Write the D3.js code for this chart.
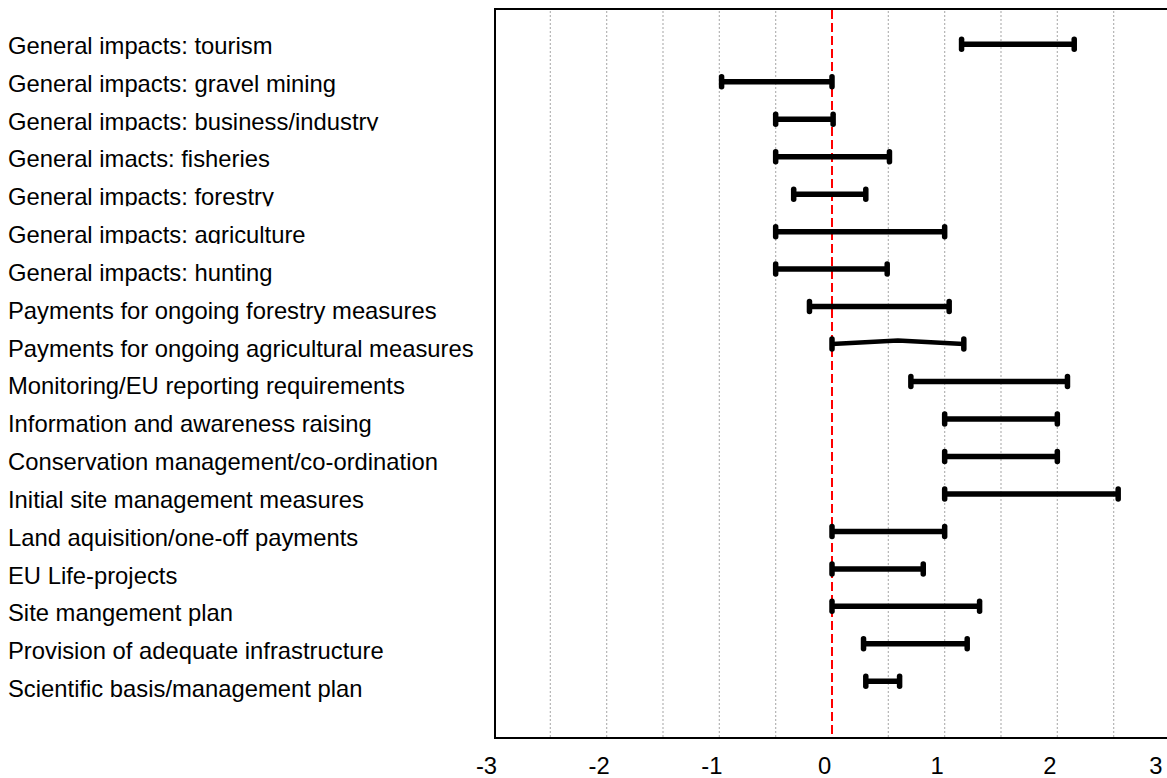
<!DOCTYPE html>
<html>
<head>
<meta charset="utf-8">
<script src="https://cdn.jsdelivr.net/npm/d3@7"></script>
<style>
  body { margin: 0; background: #fff; }
  svg { display: block; font-family: "Liberation Sans", Arial, sans-serif; }
</style>
</head>
<body>
<div id="chart"></div>
<script>
var categories = [
  "General impacts: tourism",
  "General impacts: gravel mining",
  "General impacts: business/industry",
  "General imacts: fisheries",
  "General impacts: forestry",
  "General impacts: agriculture",
  "General impacts: hunting",
  "Payments for ongoing forestry measures",
  "Payments for ongoing agricultural measures",
  "Monitoring/EU reporting requirements",
  "Information and awareness raising",
  "Conservation management/co-ordination",
  "Initial site management measures",
  "Land aquisition/one-off payments",
  "EU Life-projects",
  "Site mangement plan",
  "Provision of adequate infrastructure",
  "Scientific basis/management plan"
];
var lowValues = [1.15, -0.98, -0.5, -0.5, -0.34, -0.5, -0.5, -0.2, 0, 0.7, 1.0, 1.0, 1.0, 0, 0, 0, 0.28, 0.3];
var highValues = [2.15, 0, 0.01, 0.51, 0.3, 1.0, 0.49, 1.04, 1.17, 2.09, 2.0, 2.0, 2.54, 1.0, 0.81, 1.31, 1.2, 0.6];
var tickValues = [-3, -2, -1, 0, 1, 2, 3];
var gridValues = [-2.5, -2, -1.5, -1, -0.5, 0.5, 1, 1.5, 2, 2.5];
var refValue = 0;

var width = 1167, height = 778;
var plot = { left: 495, top: 9, right: 1170, bottom: 738 };

// labels whose text box cuts the descenders off
var clipped = [
  "General impacts: business/industry",
  "General impacts: forestry",
  "General impacts: agriculture"
];
// the one row whose line bends up a little in the middle
var kinked = "Payments for ongoing agricultural measures";

var rows = categories.map(function (c, i) {
  return { name: c, low: lowValues[i], high: highValues[i] };
});

var x = d3.scaleLinear().domain([-3, 3]).range([494, 1170]);
var y = d3.scalePoint().domain(categories).range([44.3, 681.3]);
var yLabel = d3.scalePoint().domain(categories).range([54, 697]);

var svg = d3
  .select("#chart")
  .append("svg")
  .attr("width", width)
  .attr("height", height);

// dotted grid
svg
  .selectAll(".grid")
  .data(gridValues)
  .enter()
  .append("line")
  .attr("class", "grid")
  .attr("x1", function (d) { return x(d); })
  .attr("x2", function (d) { return x(d); })
  .attr("y1", plot.top + 2)
  .attr("y2", plot.bottom)
  .attr("stroke", "#b4b4b4")
  .attr("stroke-width", 1.2)
  .attr("stroke-dasharray", "2,2");

// red reference line
svg
  .append("line")
  .attr("x1", x(refValue))
  .attr("x2", x(refValue))
  .attr("y1", plot.top + 1)
  .attr("y2", plot.bottom)
  .attr("stroke", "#ff0000")
  .attr("stroke-width", 2)
  .attr("stroke-dasharray", "9,4");

// frame (right side falls outside the picture)
svg
  .append("path")
  .attr("d", "M" + plot.right + "," + plot.top + "H" + plot.left + "V" + plot.bottom + "H" + plot.right)
  .attr("fill", "none")
  .attr("stroke", "#000")
  .attr("stroke-width", 2);

// range lines
var bar = svg
  .selectAll(".bar")
  .data(rows)
  .enter()
  .append("g")
  .attr("class", "bar");

bar
  .append("path")
  .attr("d", function (d) {
    var yy = y(d.name);
    var mid = (d.low + d.high) / 2;
    var bend = d.name === kinked ? -3.5 : 0;
    return "M" + x(d.low) + "," + yy + "L" + x(mid) + "," + (yy + bend) + "L" + x(d.high) + "," + yy;
  })
  .attr("fill", "none")
  .attr("stroke", "#000")
  .attr("stroke-width", function (d) { return d.name === kinked ? 4.5 : 5.5; });

["low", "high"].forEach(function (k) {
  bar
    .append("line")
    .attr("x1", function (d) { return x(d[k]); })
    .attr("x2", function (d) { return x(d[k]); })
    .attr("y1", function (d) { return y(d.name) - 5; })
    .attr("y2", function (d) { return y(d.name) + 5; })
    .attr("stroke", "#000")
    .attr("stroke-width", 5.5)
    .attr("stroke-linecap", "round");
});

// category labels
var defs = svg.append("defs");
clipped.forEach(function (c, i) {
  defs
    .append("clipPath")
    .attr("id", "clip" + i)
    .append("rect")
    .attr("x", 0)
    .attr("y", yLabel(c) - 30)
    .attr("width", 490)
    .attr("height", 31);
});

svg
  .selectAll(".label")
  .data(categories)
  .enter()
  .append("text")
  .attr("class", "label")
  .attr("x", 8)
  .attr("y", function (d) { return yLabel(d); })
  .attr("clip-path", function (d) {
    var i = clipped.indexOf(d);
    return i < 0 ? null : "url(#clip" + i + ")";
  })
  .attr("font-size", "23.8px")
  .attr("fill", "#000")
  .text(function (d) { return d; });

// x axis labels
var axis = d3
  .axisBottom(x)
  .tickValues(tickValues)
  .tickSize(0)
  .tickPadding(0)
  .tickFormat(function (d) { return String(d); });

var gAxis = svg
  .append("g")
  .attr("transform", "translate(-8," + 757 + ")")
  .call(axis);

gAxis.select(".domain").remove();
gAxis
  .selectAll("text")
  .attr("font-family", "Liberation Sans, Arial, sans-serif")
  .attr("font-size", "23.8px")
  .attr("fill", "#000")
  .attr("dy", "0.72em");

// last label would run past the picture edge
gAxis
  .selectAll(".tick")
  .filter(function (d) { return d === tickValues[tickValues.length - 1]; })
  .select("text")
  .attr("text-anchor", "end");
</script>
</body>
</html>
